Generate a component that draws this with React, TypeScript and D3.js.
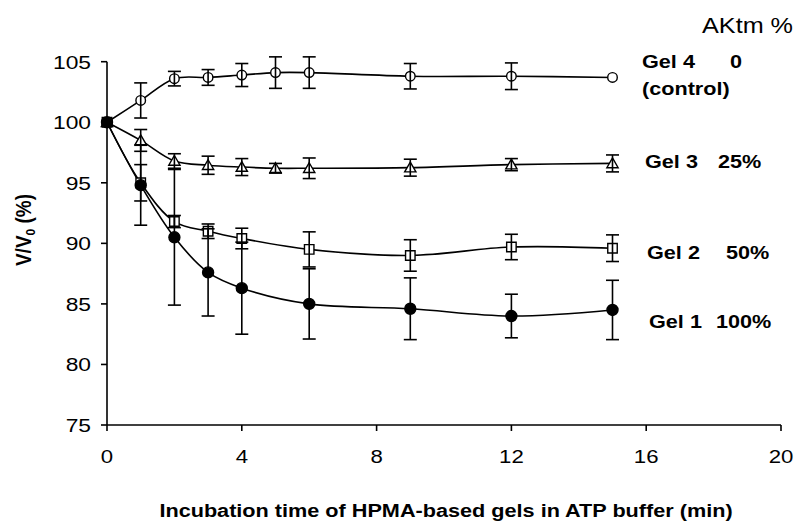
import React from 'react';
import * as d3 from 'd3';

// incubation time (min)
const timeA = [0, 1, 2, 3, 4, 5, 6, 9, 12, 15];
const timeB = [0, 1, 2, 3, 4, 6, 9, 12, 15];

// V/V0 (%) means and error bars
const gel4 = [100, 101.8, 103.6, 103.7, 103.9, 104.1, 104.1, 103.8, 103.8, 103.7];
const gel4Err = [0, 1.45, 0.6, 0.65, 0.95, 1.3, 1.3, 1.05, 1.1, 0];
const gel3 = [100, 98.5, 96.8, 96.45, 96.3, 96.2, 96.2, 96.25, 96.5, 96.6];
const gel3Err = [0, 0.9, 0.6, 0.75, 0.7, 0.4, 0.85, 0.7, 0.5, 0.7];
const gel2 = [100, 95.0, 91.8, 91.0, 90.4, 89.5, 89.0, 89.7, 89.6];
const gel2Err = [0, 1.5, 0.5, 0.6, 0.85, 1.45, 1.3, 1.05, 1.1];
const gel1 = [100, 94.8, 90.5, 87.6, 86.3, 85.0, 84.6, 84.0, 84.5];
const gel1Err = [0, 3.3, 5.6, 3.6, 3.8, 2.9, 2.55, 1.8, 2.45];

const xTicks = [0, 4, 8, 12, 16, 20];
const yTicks = [75, 80, 85, 90, 95, 100, 105];

const FONT = '"Liberation Sans", Arial, Helvetica, sans-serif';

type Series = {
  name: string;
  t: number[];
  v: number[];
  e: number[];
  shape: d3.SymbolType;
  size: number;
  filled: boolean;
};

const series: Series[] = [
  { name: 'gel4', t: timeA, v: gel4, e: gel4Err, shape: d3.symbolCircle, size: 72, filled: false },
  { name: 'gel3', t: timeA, v: gel3, e: gel3Err, shape: d3.symbolTriangle, size: 55, filled: false },
  { name: 'gel2', t: timeB, v: gel2, e: gel2Err, shape: d3.symbolSquare, size: 90, filled: false },
  { name: 'gel1', t: timeB, v: gel1, e: gel1Err, shape: d3.symbolCircle, size: 95, filled: true },
];

// the scanned figure is a bit wider than tall, so text gets a horizontal stretch
const st = (x: number, y: number, sx: number) => `translate(${x},${y}) scale(${sx},1)`;

export default function App() {
  const W = 797;
  const H = 521;
  const x = d3.scaleLinear().domain([0, 20]).range([107, 781]);
  const y = d3.scaleLinear().domain([75, 105]).range([425, 61.7]);

  const line = d3
    .line<[number, number]>()
    .x((d) => x(d[0]))
    .y((d) => y(d[1]))
    .curve(d3.curveCatmullRom.alpha(0.5));

  const cap = 6.5;

  return (
    <svg
      width={W}
      height={H}
      style={{ position: 'absolute', left: 0, top: 0, background: '#fff' }}
      fontFamily={FONT}
    >
      {/* axes */}
      <g stroke="#000" strokeWidth={1.6} fill="none">
        <line x1={x(0)} x2={x(0)} y1={y(105)} y2={y(75)} />
        <line x1={x(0)} x2={x(20)} y1={y(75)} y2={y(75)} />
        {yTicks.map((t) => (
          <line key={'yt' + t} x1={x(0) - 6} x2={x(0)} y1={y(t)} y2={y(t)} />
        ))}
        {xTicks.map((t) => (
          <line key={'xt' + t} x1={x(t)} x2={x(t)} y1={y(75)} y2={y(75) + 6} />
        ))}
      </g>
      {yTicks.map((t) => (
        <text key={'yl' + t} transform={st(91, y(t) + 7, 1.2)} textAnchor="end" fontSize={19}>
          {t}
        </text>
      ))}
      {xTicks.map((t) => (
        <text key={'xl' + t} transform={st(x(t), 462.5, 1.2)} textAnchor="middle" fontSize={18.5}>
          {t}
        </text>
      ))}

      {/* lines */}
      {series.map((s) => (
        <path
          key={'ln' + s.name}
          d={line(s.t.map((t, i) => [t, s.v[i]] as [number, number])) || ''}
          fill="none"
          stroke="#000"
          strokeWidth={1.6}
        />
      ))}

      {/* markers */}
      {series.map((s) => (
        <g key={'mk' + s.name}>
          {s.t.map((t, i) => (
            <path
              key={i}
              transform={`translate(${x(t)},${y(s.v[i]) + (s.shape === d3.symbolTriangle ? 1 : 0)})`}
              d={d3.symbol().type(s.shape).size(s.size)() || ''}
              fill={s.filled ? '#000' : '#fff'}
              stroke="#000"
              strokeWidth={1.4}
            />
          ))}
        </g>
      ))}

      {/* error bars */}
      <g stroke="#000" strokeWidth={1.6}>
        {series.map((s) =>
          s.t.map((t, i) => {
            if (!s.e[i]) return null;
            const cx = x(t);
            const y1 = y(s.v[i] + s.e[i]);
            const y2 = y(s.v[i] - s.e[i]);
            return (
              <g key={s.name + 'e' + i}>
                <line x1={cx} x2={cx} y1={y1} y2={y2} />
                <line x1={cx - cap} x2={cx + cap} y1={y1} y2={y1} />
                <line x1={cx - cap} x2={cx + cap} y1={y2} y2={y2} />
              </g>
            );
          })
        )}
      </g>

      {/* right-hand labels */}
      <text transform={st(793, 33, 1.12)} textAnchor="end" fontSize={22.5}>
        AKtm %
      </text>
      <g fontWeight="bold" fontSize={18.5}>
        <text transform={st(642, 68, 1.17)}>Gel 4</text>
        <text transform={st(730, 68, 1.17)}>0</text>
        <text transform={st(642, 95, 1.17)}>(control)</text>
        <text transform={st(645, 168, 1.17)}>Gel 3</text>
        <text transform={st(718, 168, 1.17)}>25%</text>
        <text transform={st(647, 259, 1.17)}>Gel 2</text>
        <text transform={st(726, 259, 1.17)}>50%</text>
        <text transform={st(649, 328, 1.17)}>Gel 1</text>
        <text transform={st(716, 328, 1.17)}>100%</text>
      </g>

      {/* axis titles */}
      <text
        transform="translate(31,230) rotate(-90) scale(1,1.12)"
        textAnchor="middle"
        fontWeight="bold"
        fontSize={19}
      >
        V/V<tspan fontSize={12} dy={4}>0</tspan>
        <tspan dy={-4}> (%)</tspan>
      </text>
      <text transform={st(446, 517, 1.14)} textAnchor="middle" fontWeight="bold" fontSize={19}>
        Incubation time of HPMA-based gels in ATP buffer (min)
      </text>
    </svg>
  );
}
